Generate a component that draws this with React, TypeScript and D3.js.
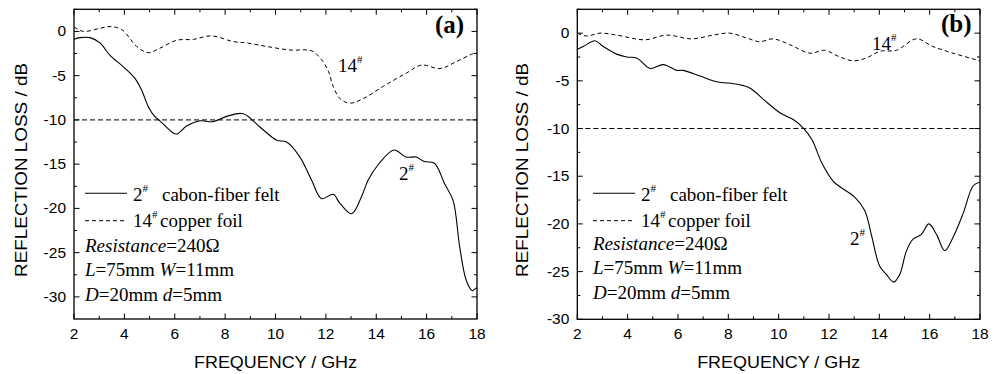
import React from "react";
import * as d3 from "d3";

// ---------- data ----------
const freqA2 = [2, 2.24, 2.64, 3.03, 3.43, 3.96, 4.42, 4.68, 4.95, 5.2, 5.41, 5.7, 6.05, 6.47, 7.0, 7.5, 8.06, 8.72, 9.38, 10.05, 10.44, 10.97, 11.43, 11.83, 12.29, 12.55, 13.02, 13.41, 13.68, 14.12, 14.71, 15.18, 15.58, 15.91, 16.31, 16.71, 17.05, 17.31, 17.57, 17.81, 17.97, 18];
const lossA2 = [-0.88, -0.7, -0.7, -1.3, -2.7, -4.0, -5.3, -6.6, -8.5, -9.6, -10.1, -10.9, -11.6, -10.7, -10.1, -10.2, -9.6, -9.3, -10.8, -12.3, -12.5, -14.2, -16.8, -18.9, -18.4, -19.4, -20.6, -18.7, -16.8, -14.9, -13.4, -14.2, -14.2, -14.7, -14.9, -17.2, -19.1, -24.3, -28.1, -29.3, -29.0, -29.1];

const freqA14 = [2, 2.37, 3.03, 3.43, 3.9, 4.49, 4.95, 5.41, 6.07, 6.74, 7.46, 8.32, 8.86, 9.65, 10.58, 11.44, 11.83, 12.1, 12.29, 12.56, 12.95, 13.48, 14.28, 15.2, 15.8, 16.53, 17.19, 17.85, 18];
const lossA14 = [0.5, 0.0, 0.35, 0.55, 0.2, -1.7, -2.4, -1.9, -1.0, -0.9, -0.5, -1.15, -1.3, -1.7, -2.1, -2.2, -3.2, -4.5, -6.2, -7.6, -8.1, -7.6, -6.2, -4.7, -3.8, -4.2, -3.4, -2.5, -2.4];

const freqB2 = [2, 2.24, 2.7, 3.03, 3.56, 3.96, 4.36, 4.89, 5.42, 5.95, 6.21, 6.88, 7.54, 8.2, 8.6, 8.89, 9.42, 10.08, 10.61, 11.0, 11.33, 11.73, 12.19, 12.43, 13.02, 13.42, 13.68, 14.01, 14.28, 14.57, 14.81, 15.08, 15.34, 15.67, 15.97, 16.27, 16.6, 16.93, 17.33, 17.73, 18];
const lossB2 = [-1.7, -1.4, -0.8, -1.4, -2.2, -2.5, -2.6, -3.7, -3.3, -3.9, -3.9, -4.5, -5.1, -5.3, -5.5, -5.8, -7.0, -8.4, -9.1, -10.0, -11.2, -13.7, -15.6, -16.1, -17.2, -18.6, -21.1, -24.4, -25.3, -26.1, -25.3, -22.8, -21.6, -21.1, -20.0, -21.1, -22.8, -21.4, -18.9, -16.0, -15.6];

const freqB14 = [2, 2.37, 2.9, 3.56, 4.69, 5.55, 6.54, 7.4, 8.06, 8.72, 9.25, 9.78, 10.44, 11.24, 11.83, 12.43, 12.96, 13.49, 14.02, 14.68, 15.47, 16.13, 16.93, 17.86, 18];
const lossB14 = [0, -0.3, 0, -0.2, -0.7, -0.2, -0.6, -0.2, 0, -0.5, -0.9, -0.6, -1.2, -2.1, -1.8, -2.5, -2.9, -2.6, -1.9, -1.8, -0.6, -1.4, -2.1, -2.8, -2.9];

const xTicks = [2, 4, 6, 8, 10, 12, 14, 16, 18];
const yTicksA = [0, -5, -10, -15, -20, -25, -30];
const yTicksB = [0, -5, -10, -15, -20, -25, -30];
const threshold = -10;

const SANS = "'Liberation Sans', Arial, sans-serif";
const SERIF = "'Liberation Serif', 'Times New Roman', serif";

type PanelProps = {
  left: number; right: number; top: number; bottom: number;
  yDomain: [number, number];
  yTicks: number[];
  f2: number[]; l2: number[]; f14: number[]; l14: number[];
  tag: string; tagX: number; tagY: number;
  label14: [number, number]; label2: [number, number];
  legX: number; legRowShift: number;
  yTitleX: number;
};

function Panel(p: PanelProps) {
  const x = d3.scaleLinear().domain([2, 18]).range([p.left, p.right]);
  const y = d3.scaleLinear().domain(p.yDomain).range([p.bottom, p.top]);
  const line = d3.line<[number, number]>()
    .x((d) => x(d[0]))
    .y((d) => y(d[1]))
    .curve(d3.curveCatmullRom.alpha(0.5));
  const s2 = line(p.f2.map((f, i) => [f, p.l2[i]] as [number, number])) || "";
  const s14 = line(p.f14.map((f, i) => [f, p.l14[i]] as [number, number])) || "";

  const xMinor = d3.range(3, 18, 2);
  const yMinor: number[] = [];
  for (let v = p.yDomain[1]; v > p.yDomain[0] + 0.01; v -= 5) yMinor.push(v);
  const Lmaj = 5.5, Lmin = 3;
  const ticks: JSX.Element[] = [];
  xTicks.forEach((t, i) => {
    ticks.push(<line key={"xb" + i} x1={x(t)} x2={x(t)} y1={p.bottom} y2={p.bottom - Lmaj} />);
    ticks.push(<line key={"xt" + i} x1={x(t)} x2={x(t)} y1={p.top} y2={p.top + Lmaj} />);
  });
  xMinor.forEach((t, i) => {
    ticks.push(<line key={"xbm" + i} x1={x(t)} x2={x(t)} y1={p.bottom} y2={p.bottom - Lmin} />);
    ticks.push(<line key={"xtm" + i} x1={x(t)} x2={x(t)} y1={p.top} y2={p.top + Lmin} />);
  });
  p.yTicks.forEach((t, i) => {
    ticks.push(<line key={"yl" + i} x1={p.left} x2={p.left + Lmaj} y1={y(t)} y2={y(t)} />);
    ticks.push(<line key={"yr" + i} x1={p.right} x2={p.right - Lmaj} y1={y(t)} y2={y(t)} />);
  });
  yMinor.forEach((t, i) => {
    ticks.push(<line key={"ylm" + i} x1={p.left} x2={p.left + Lmin} y1={y(t)} y2={y(t)} />);
    ticks.push(<line key={"yrm" + i} x1={p.right} x2={p.right - Lmin} y1={y(t)} y2={y(t)} />);
  });

  const lx = p.legX;
  const r = p.legRowShift;
  const midY = (p.top + p.bottom) / 2;
  return (
    <g>
      {/* threshold line */}
      <line x1={p.left} x2={p.right} y1={y(threshold)} y2={y(threshold)} stroke="#000" strokeWidth={1} strokeDasharray="5,3" />
      {/* curves */}
      <path d={s14} fill="none" stroke="#000" strokeWidth={1} strokeDasharray="4,3" />
      <path d={s2} fill="none" stroke="#000" strokeWidth={1.1} />
      {/* frame */}
      <rect x={p.left} y={p.top} width={p.right - p.left} height={p.bottom - p.top} fill="none" stroke="#000" strokeWidth={1.3} />
      <g stroke="#000" strokeWidth={1}>{ticks}</g>
      {/* tick labels */}
      <g fontFamily={SANS} fontSize={15.5} fill="#000">
        {xTicks.map((t) => (
          <text key={"xl" + t} x={x(t)} y={p.bottom + 20} textAnchor="middle">{t}</text>
        ))}
        {p.yTicks.map((t) => (
          <text key={"yl" + t} x={p.left - 8} y={y(t) + 5} textAnchor="end">{t}</text>
        ))}
      </g>
      {/* axis titles */}
      <text x={(p.left + p.right) / 2} y={368} textAnchor="middle" fontFamily={SANS} fontSize={16.5} textLength={163} lengthAdjust="spacingAndGlyphs">FREQUENCY / GHz</text>
      <text transform={`translate(${p.yTitleX},${170}) rotate(-90)`} textAnchor="middle" fontFamily={SANS} fontSize={16.5} textLength={214} lengthAdjust="spacingAndGlyphs">REFLECTION LOSS / dB</text>
      {/* panel tag */}
      <text x={p.tagX} y={p.tagY} fontFamily={SERIF} fontWeight="bold" fontSize={25}>{p.tag}</text>
      {/* curve labels */}
      <text x={p.label14[0]} y={p.label14[1]} fontFamily={SERIF} fontSize={19}>14<tspan fontSize={11} dy={-9}>#</tspan></text>
      <text x={p.label2[0]} y={p.label2[1]} fontFamily={SERIF} fontSize={19}>2<tspan fontSize={11} dy={-9}>#</tspan></text>
      {/* legend */}
      <line x1={lx} x2={lx + 42} y1={193.3} y2={193.3} stroke="#000" strokeWidth={1.1} />
      <line x1={lx} x2={lx + 42} y1={220.7} y2={220.7} stroke="#000" strokeWidth={1} strokeDasharray="4,3" />
      <g fontFamily={SERIF} fontSize={19} fill="#000">
        <text x={lx + 48} y={200.7}>2<tspan fontSize={11} dy={-9}>#</tspan></text>
        <text x={lx + 77} y={200.7}>cabon-fiber felt</text>
        <text x={lx + 48} y={226.7}>14<tspan fontSize={11} dy={-9}>#</tspan></text>
        <text x={lx + 75} y={226.7}>copper foil</text>
        <text x={lx} y={251.7 + r}><tspan fontStyle="italic">Resistance</tspan>=240Ω</text>
        <text x={lx} y={276 + r}><tspan fontStyle="italic">L</tspan>=75mm <tspan fontStyle="italic">W</tspan>=11mm</text>
        <text x={lx} y={300.7 + r}><tspan fontStyle="italic">D</tspan>=20mm <tspan fontStyle="italic">d</tspan>=5mm</text>
      </g>
    </g>
  );
}

export default function App() {
  return (
    <svg width={996} height={374} style={{ position: "absolute", left: 0, top: 0, background: "#fff" }}>
      <rect x={0} y={0} width={996} height={374} fill="#fff" />
      <Panel
        left={74} right={477} top={9.3} bottom={319}
        yDomain={[-32.5, 2.5]} yTicks={yTicksA}
        f2={freqA2} l2={lossA2} f14={freqA14} l14={lossA14}
        tag="(a)" tagX={435} tagY={33}
        label14={[338, 72]} label2={[399, 180]}
        legX={85} legRowShift={0} yTitleX={27}
      />
      <Panel
        left={577.3} right={980} top={9.3} bottom={319.3}
        yDomain={[-30, 2.5]} yTicks={yTicksB}
        f2={freqB2} l2={lossB2} f14={freqB14} l14={lossB14}
        tag="(b)" tagX={941} tagY={32}
        label14={[872, 50]} label2={[850, 245]}
        legX={593} legRowShift={-2} yTitleX={528}
      />
    </svg>
  );
}
